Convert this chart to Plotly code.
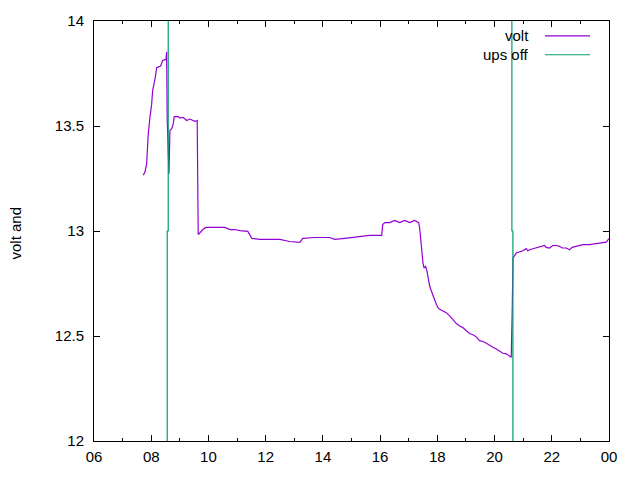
import plotly.graph_objects as go

# volt series (hour of day, volts)
volt_hours = [7.721, 7.781, 7.840, 7.861, 7.896, 7.955, 8.015, 8.050, 8.095, 8.140, 8.189, 8.329,
              8.399, 8.514, 8.538, 8.559, 8.620, 8.630, 8.654, 8.713, 8.769, 8.804, 8.943, 9.003,
              9.118, 9.237, 9.352, 9.527, 9.607, 9.642,
              9.701, 9.806, 9.911, 10.225, 10.574, 10.749, 10.923, 11.098, 11.377, 11.517, 11.796,
              12.145, 12.494, 12.844, 13.193, 13.297, 13.716, 14.240, 14.415, 14.764, 15.008,
              15.288, 15.637, 16.056, 16.091, 16.161, 16.335, 16.510, 16.684, 16.859, 17.034,
              17.208, 17.348,
              17.383, 17.442, 17.498, 17.533, 17.592, 17.638, 17.672, 17.732, 17.791, 17.847,
              17.906, 17.966, 18.022, 18.081, 18.196, 18.315, 18.430, 18.545, 18.664, 18.779,
              18.894, 19.013, 19.128, 19.244, 19.362, 19.478, 19.593, 19.712, 19.827, 19.942,
              20.061, 20.176, 20.291, 20.410, 20.525, 20.584, 20.619, 20.645,
              20.759, 20.874, 20.989, 21.108, 21.164, 21.223, 21.339, 21.457, 21.573, 21.667,
              21.747, 21.806, 21.922, 22.037, 22.156, 22.271, 22.365, 22.505, 22.620, 22.715,
              22.854, 22.969, 23.085, 23.318, 23.528, 23.668, 23.902, 23.958, 24.0]
volt_values = [13.266, 13.281, 13.321, 13.385, 13.462, 13.541, 13.604, 13.669, 13.693, 13.730,
               13.778, 13.786, 13.812, 13.817, 13.853, 13.526, 13.273, 13.433, 13.480, 13.486,
               13.510, 13.545, 13.545, 13.538, 13.541, 13.526, 13.533, 13.522, 13.526, 12.983,
               12.993, 13.007, 13.017, 13.017, 13.017, 13.007, 13.007, 13.002, 12.998, 12.965,
               12.960, 12.960, 12.960, 12.950, 12.946, 12.965, 12.969, 12.969, 12.960, 12.965,
               12.969, 12.974, 12.979, 12.979, 13.031, 13.040, 13.040, 13.050, 13.040, 13.050,
               13.040, 13.050, 13.040,
               13.013, 12.919, 12.848, 12.824, 12.832, 12.809, 12.777, 12.738, 12.714, 12.690,
               12.675, 12.651, 12.635, 12.627, 12.619, 12.611, 12.596, 12.575, 12.559, 12.548,
               12.540, 12.525, 12.512, 12.506, 12.496, 12.478, 12.474, 12.465, 12.454, 12.446,
               12.438, 12.430, 12.418, 12.415, 12.407, 12.399, 12.635, 12.871,
               12.895, 12.900, 12.906, 12.916, 12.906, 12.911, 12.916, 12.919, 12.927, 12.931,
               12.931, 12.922, 12.919, 12.931, 12.931, 12.927, 12.919, 12.919, 12.911, 12.922,
               12.927, 12.931, 12.935, 12.935, 12.938, 12.942, 12.947, 12.958, 12.964]

# ups off events (hour, value)
ups_hours = [8.559, 8.559, 8.594, 8.594, None, 20.641, 20.641, 20.606, 20.606]
ups_values = [12, 13, 13, 14, None, 12, 13, 13, 14]

x_tickvals = [6, 8, 10, 12, 14, 16, 18, 20, 22, 24]
x_ticktext = ["06", "08", "10", "12", "14", "16", "18", "20", "22", "00"]
y_tickvals = [12, 12.5, 13, 13.5, 14]
y_ticktext = ["12", "12.5", "13", "13.5", "14"]

VOLT_COLOR = "#9400D3"
UPS_COLOR = "#009E73"
FONT = "Liberation Sans, Arial, sans-serif"
FS = 15

fig = go.Figure()
fig.add_trace(go.Scatter(x=volt_hours, y=volt_values, mode="lines", name="volt",
                         line=dict(color=VOLT_COLOR, width=1.2), showlegend=False))
fig.add_trace(go.Scatter(x=ups_hours, y=ups_values, mode="lines", name="ups off",
                         line=dict(color=UPS_COLOR, width=1.2), showlegend=False,
                         connectgaps=False))

# gnuplot-style legend (text right-aligned, sample line to the right)
legend_items = [("volt", VOLT_COLOR, 33), ("ups off", UPS_COLOR, 52)]
for label, color, ypix in legend_items:
    fig.add_shape(type="line", xref="paper", yref="paper",
                  x0=(545 - 94) / 515, x1=(590 - 94) / 515,
                  y0=(441 - ypix) / 423, y1=(441 - ypix) / 423,
                  line=dict(color=color, width=1.2))
    fig.add_annotation(x=(531 - 94) / 515, y=(441 - ypix) / 423, xref="paper", yref="paper",
                       text=label, showarrow=False, xanchor="right", yanchor="middle",
                       font=dict(family=FONT, size=FS, color="black"))

fig.add_annotation(x=-79 / 515, y=(441 - 232) / 423, xref="paper", yref="paper",
                   text="volt and", textangle=-90, showarrow=False,
                   xanchor="center", yanchor="middle",
                   font=dict(family=FONT, size=FS, color="black"))

fig.update_layout(
    width=640, height=480,
    margin=dict(l=94, r=31, t=18, b=39),
    paper_bgcolor="white", plot_bgcolor="white",
    font=dict(family=FONT, size=FS, color="black"),
    showlegend=False,
)
fig.update_xaxes(range=[6, 24], tickvals=x_tickvals, ticktext=x_ticktext,
                 showgrid=False, zeroline=False, showline=True, linecolor="black", linewidth=1,
                 mirror="allticks", ticks="inside", ticklen=6, tickcolor="black",
                 ticklabelstandoff=2,
                 minor=dict(dtick=1, tick0=6, ticks="inside", ticklen=3, tickcolor="black",
                            showgrid=False),
                 tickfont=dict(family=FONT, size=FS, color="black"))
fig.update_yaxes(range=[12, 14], tickvals=y_tickvals, ticktext=y_ticktext,
                 showgrid=False, zeroline=False, showline=True, linecolor="black", linewidth=1,
                 mirror="allticks", ticks="inside", ticklen=6, tickcolor="black",
                 ticklabelstandoff=6,
                 tickfont=dict(family=FONT, size=FS, color="black"))

fig.write_html("out.html")
